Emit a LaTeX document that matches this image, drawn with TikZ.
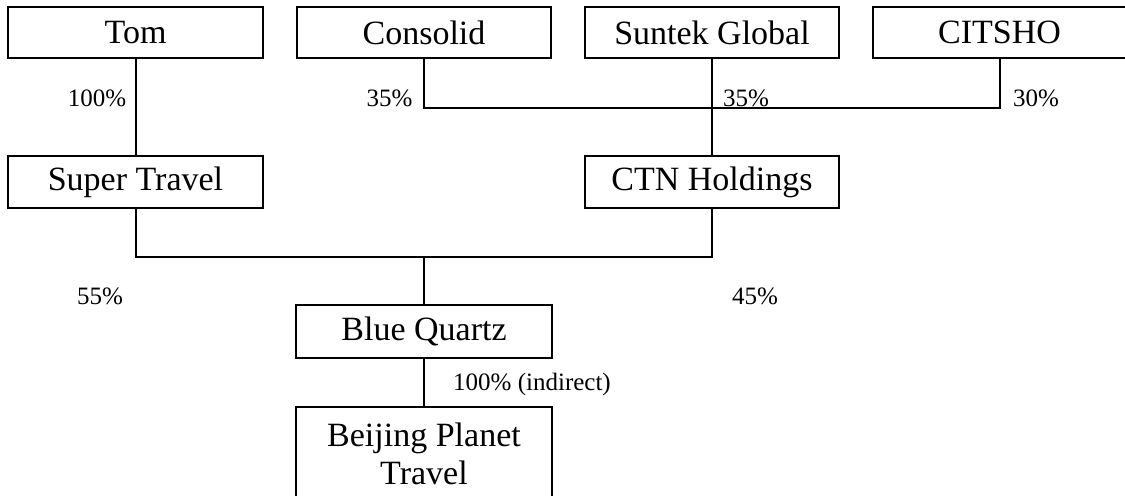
\documentclass[tikz,border=0pt]{standalone}
\usepackage{fontspec}
\setmainfont{Liberation Serif}
\begin{document}
\begin{tikzpicture}[x=0.5pt,y=-0.5pt,
  company/.style={draw, line width=1pt, inner sep=0pt, minimum height=25.5pt,
    align=center, font=\fontsize{17pt}{19pt}\selectfont},
  pct/.style={inner sep=0pt, font=\fontsize{12.5pt}{15pt}\selectfont},
  link/.style={line width=1pt}]
\useasboundingbox (0,0) rectangle (1125,495);
% boxes
\node[company, minimum width=127.5pt] (tom) at (135.5,32.5) {Tom};
\node[company, minimum width=127pt] (consolid) at (424,32.5) {Consolid};
\node[company, minimum width=127pt] (suntek) at (712,32.5) {Suntek Global};
\node[company, minimum width=126.5pt] (citsho) at (999.5,32.5) {CITSHO};
\node[company, minimum width=127.5pt, minimum height=26pt] (super) at (135.5,182) {Super Travel};
\node[company, minimum width=127pt, minimum height=26pt] (ctn) at (712,182) {CTN Holdings};
\node[company, minimum width=128pt, minimum height=26.5pt] (blue) at (424,331.5) {Blue Quartz};
\node[company, minimum width=128pt, minimum height=46.5pt] (beijing) at (424,453.5) {Beijing Planet\\Travel};
% junctions
\coordinate (j1) at (712,108);
\coordinate (j2) at (424,257);
% connectors
\draw[link] (tom.south) -- (super.north);
\draw[link] (consolid.south) |- (j1) -| (citsho.south);
\draw[link] (suntek.south) -- (ctn.north);
\draw[link] (super.south) |- (j2) -| (ctn.south);
\draw[link] (j2) -- (blue.north);
\draw[link] (blue.south) -- (beijing.north);
% labels
\node[pct] (l1) at (97,98) {100\%};
\node[pct] (l2) at (389.5,98) {35\%};
\node[pct] (l3) at (746,98) {35\%};
\node[pct] (l4) at (1036,98) {30\%};
\node[pct] (l5) at (100,296) {55\%};
\node[pct] (l6) at (755,296) {45\%};
\node[pct] (l7) at (532,384) {100\% (indirect)};
\end{tikzpicture}
\end{document}
